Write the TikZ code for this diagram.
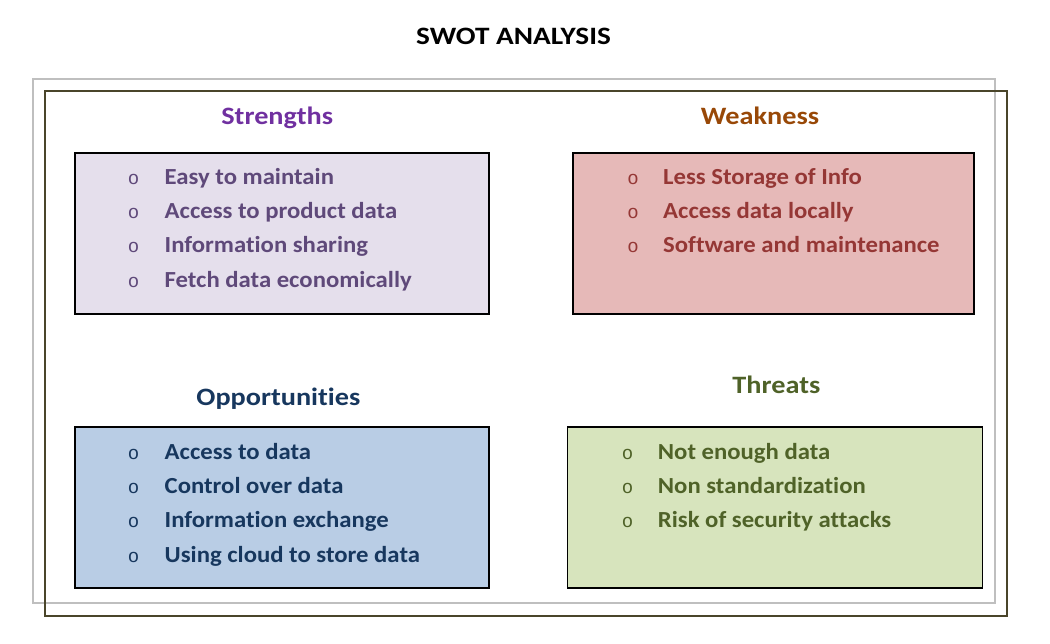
\documentclass[tikz,border=0pt]{standalone}
\usepackage{fontspec}
\setmainfont{Carlito}
\newfontfamily\itemfont[FakeStretch=1.075,RawFeature=-liga]{Carlito}
\newfontfamily\headfont[FakeStretch=1.13,RawFeature=-liga]{Carlito}
\newfontfamily\titlefont[FakeStretch=1.17,RawFeature=-liga]{Carlito}
\newfontfamily\bulletfont{Liberation Mono}
\definecolor{framegray}{HTML}{BFBFBF}
\definecolor{framedark}{HTML}{4A452A}
\definecolor{sfill}{HTML}{E5DFEC}
\definecolor{wfill}{HTML}{E6B9B8}
\definecolor{ofill}{HTML}{B9CDE5}
\definecolor{tfill}{HTML}{D7E4BD}
\definecolor{stitle}{HTML}{7030A0}
\definecolor{wtitle}{HTML}{984807}
\definecolor{otitle}{HTML}{17375E}
\definecolor{ttitle}{HTML}{4F6228}
\definecolor{stext}{HTML}{5F497A}
\definecolor{wtext}{HTML}{953735}
\definecolor{otext}{HTML}{17375E}
\definecolor{ttext}{HTML}{4F6228}
\tikzset{
  frame/.style={line width=1.5pt},
  quadbox/.style={draw=black, line width=1.5pt, rectangle, inner sep=0pt},
  heading/.style={font=\headfont\fontsize{25}{30}\selectfont\bfseries, anchor=base, inner sep=0pt},
  maintitle/.style={font=\titlefont\fontsize{25}{30}\selectfont\bfseries, anchor=base, inner sep=0pt},
  itemtext/.style={font=\itemfont\fontsize{23}{28}\selectfont\bfseries, anchor=base west, inner sep=0pt},
  bulletmark/.style={font=\bulletfont\fontsize{19}{22}\selectfont, anchor=base, inner sep=0pt},
}
\begin{document}
\begin{tikzpicture}[x=1pt,y=-1pt]
\useasboundingbox (0,0) rectangle (1050,644);

% title
\node[maintitle, text=black] (title) at (513.5,44.3) {SWOT ANALYSIS};

% the two offset frames
\draw[frame, framegray] (33,79) rectangle (995,603);
\draw[frame, framedark] (45,91) rectangle (1007,616);

% quadrant headings
\node[heading, text=stitle] (hS) at (277.2,124.3) {Strengths};
\node[heading, text=wtitle] (hW) at (760,124.3) {Weakness};
\node[heading, text=otitle] (hO) at (278.4,405.7) {Opportunities};
\node[heading, text=ttitle] (hT) at (776.4,393.3) {Threats};

% quadrant boxes
\node[quadbox, fill=sfill, minimum width=414pt, minimum height=161pt] (S) at (282,233.5) {};
\node[quadbox, fill=wfill, minimum width=401pt, minimum height=161pt] (W) at (773.5,233.5) {};
\node[quadbox, fill=ofill, minimum width=414pt, minimum height=161pt] (O) at (282,507.5) {};
\node[quadbox, fill=tfill, minimum width=415pt, minimum height=161pt] (T) at (775,507.5) {};

% Strengths items
\foreach \t [count=\i] in {Easy to maintain, Access to product data, Information sharing, Fetch data economically}{
  \node[bulletmark, text=stext] (sb\i) at (133.5,{184.3+34.3*(\i-1)}) {o};
  \node[itemtext, text=stext] (si\i) at (164.5,{184.3+34.3*(\i-1)}) {\t};
}
% Weakness items
\foreach \t [count=\i] in {Less Storage of Info, Access data locally, Software and maintenance}{
  \node[bulletmark, text=wtext] (wb\i) at (633,{184.3+34.3*(\i-1)}) {o};
  \node[itemtext, text=wtext] (wi\i) at (663,{184.3+34.3*(\i-1)}) {\t};
}
% Opportunities items
\foreach \t [count=\i] in {Access to data, Control over data, Information exchange, Using cloud to store data}{
  \node[bulletmark, text=otext] (ob\i) at (133.5,{459.3+34.3*(\i-1)}) {o};
  \node[itemtext, text=otext] (oi\i) at (164.5,{459.3+34.3*(\i-1)}) {\t};
}
% Threats items
\foreach \t [count=\i] in {Not enough data, Non standardization, Risk of security attacks}{
  \node[bulletmark, text=ttext] (tb\i) at (627.5,{459.3+34.3*(\i-1)}) {o};
  \node[itemtext, text=ttext] (ti\i) at (657.7,{459.3+34.3*(\i-1)}) {\t};
}
\end{tikzpicture}
\end{document}
